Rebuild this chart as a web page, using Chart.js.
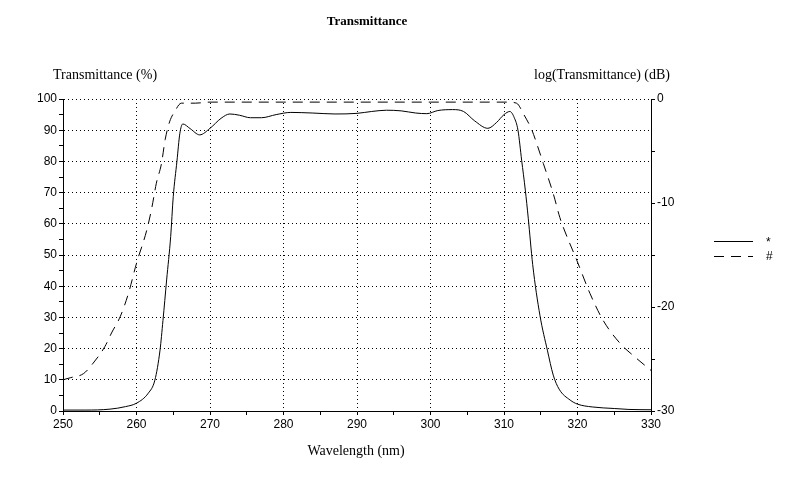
<!DOCTYPE html>
<html>
<head>
<meta charset="utf-8">
<title>Transmittance</title>
<script src="https://cdn.jsdelivr.net/npm/chart.js@4"></script>
<style>
  body { margin: 0; background: #fff; }
  canvas { display: block; }
</style>
</head>
<body>
<canvas id="transChart" width="790" height="500"></canvas>
<script>
// Transmittance in % (solid line, left axis)
const transWavelengths = [250, 253, 256.4, 258.5, 260, 261.6, 262.5, 263.2, 263.6, 264.1, 264.65, 265.0, 265.5, 265.9, 266.3,
    267.3, 268.6, 270, 271.5, 272.7, 274, 275.5, 277, 279, 281, 284, 287, 290, 292, 294, 296, 298, 299.5,
    301, 303, 304.5, 306, 307.8, 309, 310, 310.8, 311.4, 311.9, 312.4, 312.9, 313.3, 313.9, 314.9, 315.9,
    316.7, 317.5, 319, 320, 322, 325, 327, 330];
const transValues = [0.3, 0.3, 0.6, 1.4, 2.5, 5.7, 9.9, 19.5, 29, 42, 55.9, 68.7, 80, 89, 92,
    90.5, 88.5, 90.6, 93.8, 95.2, 94.8, 94, 94, 95, 95.7, 95.5, 95.2, 95.4, 96, 96.4, 96.2, 95.5, 95.3,
    96.3, 96.6, 96, 93, 90.6, 92.5, 95, 96, 94, 90, 80.4, 70.8, 61.8, 47, 30.5, 19.5,
    11.5, 7, 3.5, 2.2, 1.3, 0.8, 0.5, 0.4];

// log(Transmittance) in dB (dashed line, right axis)
const dbWavelengths = [250, 251, 252.8, 254.1, 255.7, 256.6, 257.8, 258.9, 260, 261.4, 262.1, 262.7, 263.4, 263.9,
    264.5, 265.2, 266.1, 268, 270, 280, 290, 300, 308, 310.5, 311.7, 312.7, 313.8, 314.6, 315.35, 316.7,
    317.6, 318.1, 319.9, 321.7, 323.5, 325.8, 327.8, 330];
const dbValues = [-27, -26.8, -26.4, -25.4, -23.8, -22.5, -20.9, -18.7, -15.8, -12.6, -10.4, -8.1, -6.2, -3.9,
    -2.2, -1.2, -0.4, -0.4, -0.3, -0.3, -0.3, -0.3, -0.3, -0.3, -0.4, -1.5, -3.0, -4.6, -6.2, -9.1,
    -11.4, -12.4, -15.5, -18.7, -21.3, -23.5, -24.8, -26.1];

const seriesLabels = ['*', '#'];

const chartTitle = 'Transmittance';
const leftTitle = 'Transmittance (%)';
const rightTitle = 'log(Transmittance) (dB)';
const bottomTitle = 'Wavelength (nm)';

function toPoints(xs, ys) {
    return xs.map((x, i) => ({ x: x, y: ys[i] }));
}

const tickFont = { family: 'Liberation Sans', size: 12 };
const serifFont = '14px "Liberation Serif"';

// draws title, axis captions and the little legend on the right
const textPlugin = {
    id: 'textPlugin',
    afterDraw(chart) {
        const ctx = chart.ctx;
        const area = chart.chartArea;
        ctx.save();
        ctx.fillStyle = '#000';
        ctx.textBaseline = 'middle';

        ctx.font = 'bold 13px "Liberation Serif"';
        ctx.textAlign = 'center';
        ctx.fillText(chartTitle, 367, 22);

        ctx.font = serifFont;
        ctx.textAlign = 'left';
        ctx.fillText(leftTitle, 53, 75);
        ctx.textAlign = 'right';
        ctx.fillText(rightTitle, 670, 75);
        ctx.textAlign = 'center';
        ctx.fillText(bottomTitle, (area.left + area.right) / 2 - 1, 451);

        // legend
        ctx.font = '12px "Liberation Sans"';
        ctx.textAlign = 'left';
        chart.data.datasets.forEach((ds, i) => {
            const y = 241.5 + i * 15;
            ctx.beginPath();
            ctx.lineWidth = 1;
            ctx.strokeStyle = ds.borderColor;
            ctx.setLineDash(ds.borderDash || []);
            ctx.moveTo(714, y);
            ctx.lineTo(753, y);
            ctx.stroke();
            ctx.fillText(ds.label, 766, i === 0 ? y + 1 : y);
        });
        ctx.restore();
    }
};

const ctx = document.getElementById('transChart').getContext('2d');

const transChart = new Chart(ctx, {
    type: 'line',
    data: {
        datasets: [{
            label: seriesLabels[0],
            data: toPoints(transWavelengths, transValues),
            yAxisID: 'y',
            borderColor: '#000',
            borderWidth: 1,
            pointRadius: 0,
            cubicInterpolationMode: 'monotone'
        }, {
            label: seriesLabels[1],
            data: toPoints(dbWavelengths, dbValues),
            yAxisID: 'y2',
            borderColor: '#000',
            borderWidth: 1,
            borderDash: [10, 7],
            pointRadius: 0,
            cubicInterpolationMode: 'monotone'
        }]
    },
    options: {
        responsive: false,
        animation: false,
        layout: { padding: { top: 99, left: 0, right: 0, bottom: 0 } },
        plugins: {
            legend: { display: false },
            title: { display: false },
            tooltip: { enabled: false }
        },
        scales: {
            x: {
                type: 'linear',
                min: 250,
                max: 330,
                afterFit(scale) { scale.height = 89; },
                ticks: {
                    stepSize: 5,
                    autoSkip: false,
                    maxRotation: 0,
                    color: '#000',
                    font: tickFont,
                    padding: 2,
                    callback: v => (v % 10 === 0 ? v : '')
                },
                grid: {
                    color: c => (c.tick && c.tick.value % 10 === 0 && c.tick.value > 250 && c.tick.value < 330) ? '#000' : 'rgba(0,0,0,0)',
                    tickColor: '#000',
                    tickLength: 4
                },
                border: { color: '#000', dash: [1, 3] }
            },
            y: {
                position: 'left',
                min: 0,
                max: 100,
                afterFit(scale) { scale.width = 63; },
                ticks: {
                    stepSize: 5,
                    autoSkip: false,
                    color: '#000',
                    font: tickFont,
                    padding: 2,
                    callback: v => (v % 10 === 0 ? v : '')
                },
                grid: {
                    color: c => (c.tick && c.tick.value % 10 === 0 && c.tick.value > 0) ? '#000' : 'rgba(0,0,0,0)',
                    tickColor: '#000',
                    tickLength: 4
                },
                border: { color: '#000', dash: [1, 3] }
            },
            y2: {
                position: 'right',
                min: -30,
                max: 0,
                afterFit(scale) { scale.width = 139; },
                ticks: {
                    stepSize: 5,
                    autoSkip: false,
                    color: '#000',
                    font: tickFont,
                    padding: 2,
                    callback: v => (v % 10 === 0 ? v : '')
                },
                grid: {
                    drawOnChartArea: false,
                    tickColor: '#000',
                    tickLength: 4
                },
                border: { color: '#000' }
            }
        }
    },
    plugins: [textPlugin]
});
</script>
</body>
</html>
